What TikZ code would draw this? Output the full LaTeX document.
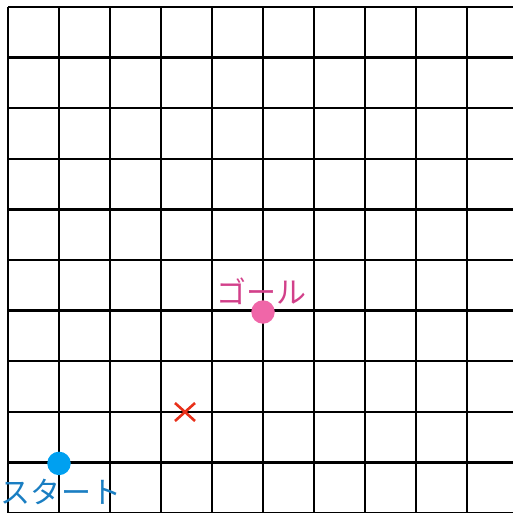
\documentclass[tikz,border=0pt]{standalone}
\usepackage{fontspec}
\usetikzlibrary{calc}
\newfontfamily\jpfont{Noto Sans CJK JP}
\definecolor{startdot}{HTML}{00A0F0}
\definecolor{starttext}{HTML}{1A7EC2}
\definecolor{goaldot}{HTML}{F066A8}
\definecolor{goaltext}{HTML}{D2408A}
\definecolor{crossred}{HTML}{E8301A}
\tikzset{
  gridline/.style={line width=2.5pt, black},
  dotmark/.style={circle, inner sep=0pt, minimum size=23.5pt},
  lbl/.style={inner sep=0pt, font=\jpfont\fontsize{30}{30}\selectfont},
}
\begin{document}
\begin{tikzpicture}[x=1pt,y=-1pt]
\useasboundingbox (0,0) rectangle (513,513);
\begin{scope}
\clip (0,0) rectangle (513,513);
\foreach \k in {0,...,10} {
  \draw[gridline] ({8+51*\k},7) -- ({8+51*\k},520);
  \draw[gridline] (8,{7+50.6*\k}) -- (520,{7+50.6*\k});
}
\end{scope}
\node[dotmark, fill=startdot] (start) at (59,463.4) {};
\node[dotmark, fill=goaldot] (goal) at (263,312) {};
\node[lbl, text=starttext] (startlbl) at (61,492) {スタート};
\node[lbl, text=goaltext] (goallbl) at (261,291) {ゴール};
\coordinate (x) at (185,412);
\draw[crossred, line width=2.6pt] ($(x)+(-10,-9)$) -- ($(x)+(10,9)$);
\draw[crossred, line width=2.6pt] ($(x)+(-10,9)$) -- ($(x)+(10,-9)$);
\end{tikzpicture}
\end{document}
